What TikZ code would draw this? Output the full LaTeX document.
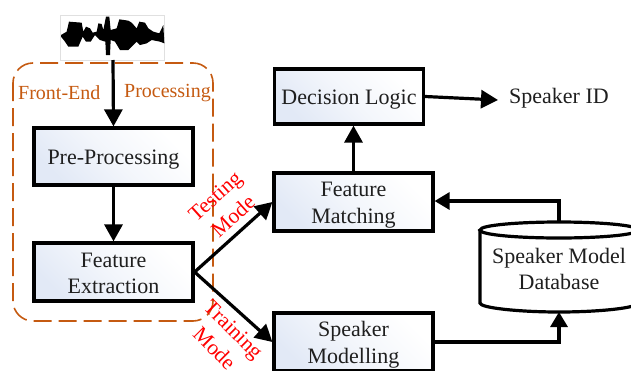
\documentclass[tikz,border=0pt]{standalone}
\usepackage{fontspec}
\setmainfont{Liberation Serif}
\usetikzlibrary{arrows.meta,shapes.geometric}
\definecolor{dashor}{RGB}{197,90,17}
\definecolor{boxblue}{RGB}{226,233,246}
\newcommand{\dnline}{\rule{0pt}{21pt}}
\tikzset{
 blockbox/.style={draw=black,line width=3.2pt,left color=boxblue,right color=white,middle color=white!60!boxblue,shading angle=135,align=center,inner sep=0pt,font=\fontsize{22}{26.5}\selectfont,text=black!88},
 conn/.style={draw=black,line width=3.2pt,-{Triangle[length=17pt,width=18pt]}},
 connb/.style={draw=black,line width=3.2pt,-{Triangle[length=15pt,width=17pt]}},
 lab/.style={font=\fontsize{22}{26.5}\selectfont,text=black!88,align=center,inner sep=0pt},
 orlab/.style={font=\fontsize{20}{22}\selectfont,text=dashor,inner sep=0pt},
 redlab/.style={font=\fontsize{21.5}{27}\selectfont,text=red,inner sep=0pt,align=center},
}
\begin{document}
\begin{tikzpicture}[x=1pt,y=-1pt]
\useasboundingbox (0,0) rectangle (631,370);
\begin{scope}
\clip (0,0) rectangle (631,370);
% waveform
\draw[draw=black!12,line width=.6pt,fill=white] (60,15) rectangle (164,60);
\coordinate (wavebottom) at (113,60);
\begin{scope}[scale=1/3]
\fill[black,line join=round] (183,105) -- (200,95) -- (207,65) -- (245,68) -- (250,95) -- (258,80) -- (270,85) -- (278,98) -- (290,95) -- (295,70) -- (305,72) -- (310,90) -- (318,50) -- (328,50) -- (332,90) -- (350,85) -- (358,58) -- (385,62) -- (395,68) -- (410,85) -- (418,65) -- (435,68) -- (445,85) -- (460,95) -- (478,100) -- (490,75) -- (493,130) -- (480,125) -- (455,120) -- (440,130) -- (420,135) -- (410,125) -- (385,150) -- (360,150) -- (345,125) -- (332,120) -- (330,165) -- (318,165) -- (316,125) -- (300,120) -- (285,105) -- (272,125) -- (258,125) -- (248,110) -- (235,140) -- (205,140) -- (195,125) -- (183,110) -- cycle;
\end{scope}
% dashed frame
\draw[dashor,line width=1.6pt,dash pattern=on 18pt off 7pt,rounded corners=20pt] (13,63) rectangle (213,321);
% boxes
\node[blockbox,minimum width=159pt,minimum height=57pt] (pre) at (113.5,156.5) {\dnline Pre-Processing};
\node[blockbox,minimum width=159pt,minimum height=58pt] (ext) at (113.5,272) {\rule{0pt}{17pt}Feature\\Extraction};
\node[blockbox,minimum width=149pt,minimum height=55pt] (dec) at (349,96.5) {\dnline Decision Logic};
\node[blockbox,minimum width=159pt,minimum height=58pt] (mat) at (353.5,202) {\dnline Feature\\Matching};
\node[blockbox,minimum width=159pt,minimum height=58pt] (mod) at (353.5,342) {\dnline Speaker\\Modelling};
% database
\coordinate (dbtop) at (559,222);
\coordinate (dbbot) at (559,312);
\draw[black,line width=3.2pt,fill=white] (480,230) -- (480,303) .. controls (480,308) and (520,312) .. (559,312) .. controls (598,312) and (638,308) .. (638,303) -- (638,230);
\draw[black,line width=3.2pt,fill=white] (559,222) .. controls (520,222) and (480,225) .. (480,230) .. controls (480,235) and (520,238) .. (559,238) .. controls (598,238) and (638,235) .. (638,230) .. controls (638,225) and (598,222) .. (559,222) -- cycle;
\node[lab] (dbl) at (559,269) {Speaker Model\\Database};
% labels
\node[orlab,anchor=west] (fe) at (18,93) {Front-End};
\node[orlab,anchor=east] (pr) at (211,93) {Processing};
\node[lab,anchor=west] (sid) at (509,98) {Speaker ID};
\node[redlab,rotate=42] (tm) at (224,206) {Testing\\Mode};
\node[redlab,rotate=-45] (trm) at (224,339) {Training\\Mode};
% connectors
\draw[conn] (wavebottom) -- (pre.north);
\draw[conn] (pre.south) -- (ext.north);
\coordinate (fork) at (ext.east);
\draw[conn] (fork) -- (mat.west);
\draw[conn] (fork) -- (mod.west);
\draw[conn] (mat.north) -- (mat.north|-dec.south);
\coordinate (dbin) at (559,201);
\coordinate (dbout) at (559,342);
\draw[connb] (dbtop) -- (dbin) -- (mat.east|-dbin);
\draw[connb] (mod.east|-dbout) -- (dbout) -- (dbbot);
\coordinate (sidtip) at (498,100);
\draw[conn] (dec.east) -- (sidtip);
\end{scope}
\end{tikzpicture}
\end{document}
